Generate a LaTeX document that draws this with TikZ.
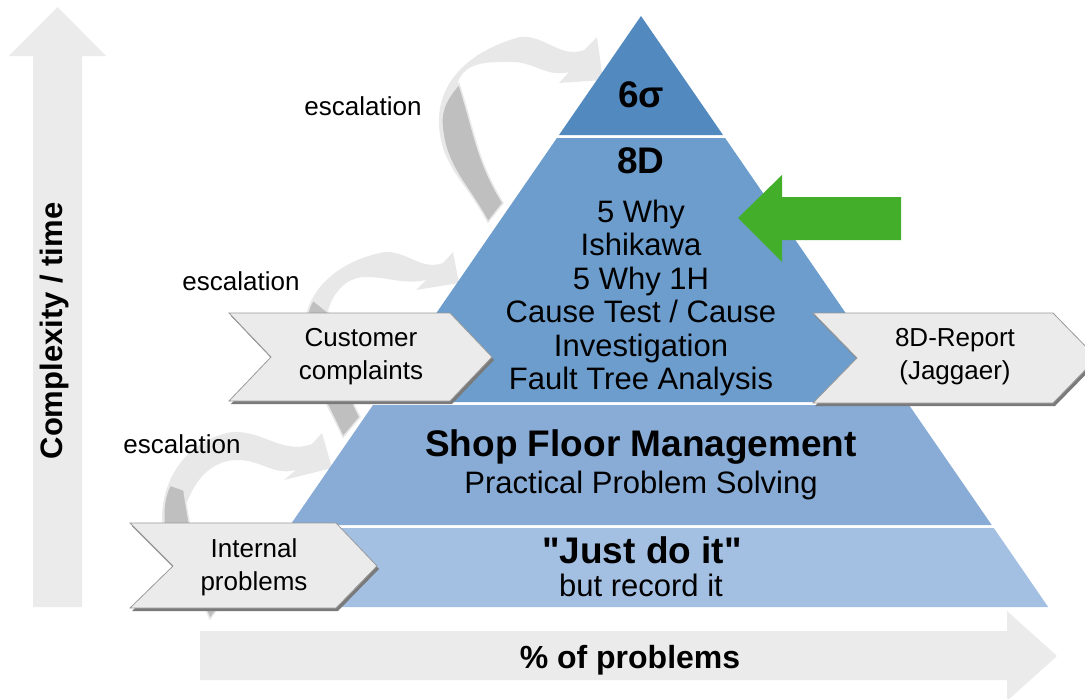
\documentclass[tikz,border=0pt]{standalone}
\usepackage{fontspec}
\setmainfont{Liberation Sans}[Ligatures=TeXOff]
\definecolor{axisgray}{HTML}{EBEBEB}
\definecolor{arrlight}{HTML}{E8E8E8}
\definecolor{arrdark}{HTML}{BFBFBF}
\definecolor{tierA}{HTML}{528AC0}
\definecolor{tierB}{HTML}{6C9DCC}
\definecolor{tierC}{HTML}{88ACD6}
\definecolor{tierD}{HTML}{A3C0E3}
\definecolor{greenarr}{HTML}{42AE2A}
\definecolor{chevfill}{HTML}{EBEBEB}
\definecolor{chevline}{HTML}{9A9A9A}
\definecolor{chevshadow}{HTML}{7A7A7A}
\begin{document}
\begin{tikzpicture}[x=1pt,y=-1pt,
  lbl/.style={inner sep=0pt, font=\fontsize{26}{33}\selectfont, align=center},
  big/.style={inner sep=0pt, font=\bfseries\fontsize{37}{40}\selectfont, align=center},
  mid/.style={inner sep=0pt, font=\fontsize{31}{33.4}\selectfont, align=center},
  axislbl/.style={inner sep=0pt, font=\bfseries\fontsize{31}{34}\selectfont},
  lightarr/.style={fill=arrlight, draw=none},
  darkarr/.style={fill=arrdark, draw=arrlight, line width=1.5pt},
  chevshade/.style={fill=chevshadow, draw=none},
  chevbody/.style={fill=chevfill, draw=chevline, line width=0.8pt}]
\useasboundingbox (0,0) rectangle (1085,699);

% axis arrows
\fill[axisgray] (33,607) -- (33,56) -- (9,56) -- (57.5,7) -- (106,56) -- (82,56) -- (82,607) -- cycle;
\node[axislbl, rotate=90] (ylab) at (54,331) {Complexity / time};
\fill[axisgray] (200,631) -- (1007,631) -- (1007,611) -- (1057,656) -- (1007,701) -- (1007,680) -- (200,680) -- cycle;
\node[axislbl, font=\bfseries\fontsize{32}{34}\selectfont] (xlab) at (630,660) {\% of problems};

% escalation arrow 1 (top)
\path[lightarr] (488,222) to[out=118,in=-88] (439,124) to[out=92,in=195] (520,37)
  to[out=5,in=200] (584,50) -- (597,37) -- (603,80) -- (559,83) -- (569,72)
  to[out=195,in=0] (512,62) to[out=180,in=70] (458,82) to[out=-72,in=122] (503,203) -- cycle;
\path[darkarr] (459,84) to[out=-72,in=122] (503,203) -- (488,222)
  to[out=118,in=-86] (442,125) to[out=94,in=-130] (459,84) -- cycle;

% escalation arrow 2 (middle)
\path[lightarr] (343,437) to[out=115,in=-88] (304,335) to[out=92,in=190] (385,252)
  to[out=2,in=200] (443,263) -- (453,252) -- (459,283) -- (416,290) -- (426,280)
  to[out=192,in=0] (366,277) to[out=180,in=78] (326,318) to[out=-78,in=118] (360,417) -- cycle;
\path[darkarr] (328,312) to[out=-78,in=118] (360,417) -- (343,437)
  to[out=115,in=-88] (307,330) to[out=92,in=-120] (313,300) -- cycle;

% escalation arrow 3 (bottom)
\path[lightarr] (210,619) to[out=112,in=-88] (162,523) to[out=92,in=190] (232,432)
  to[out=3,in=200] (312,444) -- (322,433) -- (332,468) -- (284,480) -- (296,470)
  to[out=195,in=0] (238,460) to[out=180,in=78] (181,523) to[out=-75,in=115] (218,608) -- cycle;
\path[darkarr] (184,490) to[out=-82,in=115] (218,608) -- (210,619)
  to[out=112,in=-88] (164,523) to[out=92,in=-115] (170,485) -- cycle;

% pyramid tiers
\fill[tierA] (641,16) -- (723,135) -- (559,135) -- cycle;
\fill[tierB] (556.9,138) -- (725.1,138) -- (906.9,402) -- (375.1,402) -- cycle;
\fill[tierC] (373,405) -- (909,405) -- (991.7,525) -- (290.3,525) -- cycle;
\fill[tierD] (288.2,528) -- (993.8,528) -- (1048.2,607) -- (233.8,607) -- cycle;

\node[big] (sigma) at (641,95) {6σ};
\node[big] (eightd) at (641,161) {8D};
\node[mid] (methods) at (641,298) {5 Why\\Ishikawa\\5 Why 1H\\Cause Test / Cause\\Investigation\\Fault Tree Analysis};
\node[big] (sfm) at (641,447) {Shop Floor Management};
\node[mid] (pps) at (641,485) {Practical Problem Solving};
\node[big] (jdi) at (642,550) {"Just do it"};
\node[mid] (bri) at (641,585) {but record it};

% green arrow
\fill[greenarr] (738,218) -- (782,175) -- (782,197) -- (901,197) -- (901,240) -- (782,240) -- (782,262) -- cycle;

% chevrons
\fill[chevshade] ([shift={(2,3)}]229,313) -- ([shift={(2,3)}]450,313) -- ([shift={(2,3)}]492,357) -- ([shift={(2,3)}]450,401) -- ([shift={(2,3)}]229,401) -- ([shift={(2,3)}]271,357) -- cycle;
\draw[chevbody] (229,313) -- (450,313) -- (492,357) -- (450,401) -- (229,401) -- (271,357) -- cycle;
\node[lbl] (cust) at (361,357) {Customer\\complaints};

\fill[chevshade] ([shift={(2,3)}]813,313) -- ([shift={(2,3)}]1053,313) -- ([shift={(2,3)}]1097,358) -- ([shift={(2,3)}]1053,403) -- ([shift={(2,3)}]813,403) -- ([shift={(2,3)}]857,358) -- cycle;
\draw[chevbody] (813,313) -- (1053,313) -- (1097,358) -- (1053,403) -- (813,403) -- (857,358) -- cycle;
\node[lbl] (report) at (955,357) {8D-Report\\(Jaggaer)};

\fill[chevshade] ([shift={(2,3)}]130,523) -- ([shift={(2,3)}]336,523) -- ([shift={(2,3)}]377,566) -- ([shift={(2,3)}]336,608) -- ([shift={(2,3)}]130,608) -- ([shift={(2,3)}]173,566) -- cycle;
\draw[chevbody] (130,523) -- (336,523) -- (377,566) -- (336,608) -- (130,608) -- (173,566) -- cycle;
\node[lbl] (internal) at (254,567) {Internal\\problems};

% escalation labels
\node[lbl] (esc1) at (363,106) {escalation};
\node[lbl] (esc2) at (241,281) {escalation};
\node[lbl] (esc3) at (182,444) {escalation};
\end{tikzpicture}
\end{document}
